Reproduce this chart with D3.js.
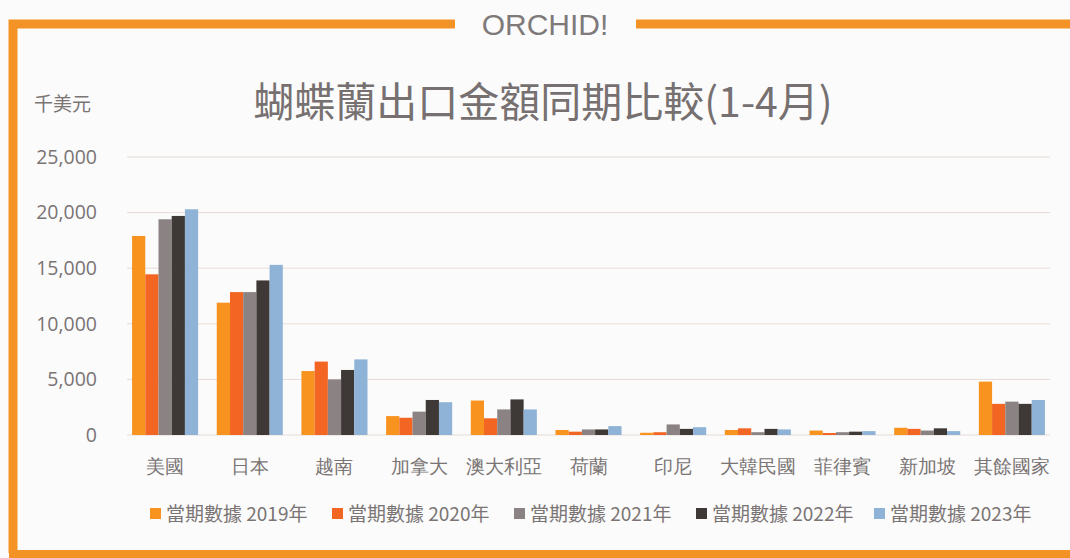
<!DOCTYPE html>
<html>
<head>
  <meta charset="utf-8">
  <script src="https://d3js.org/d3.v7.min.js"></script>
  <style>
    body { margin: 0; background: #fbfbfb; font-family: "Noto Sans CJK TC", "Noto Sans", sans-serif; }
  </style>
</head>
<body>
<div id="chart"></div>
<script>
const width = 1070;
const height = 558;
const margin = { top: 157, bottom: 123, left: 127, right: 20 };

// 國家
const countries = ["美國", "日本", "越南", "加拿大", "澳大利亞", "荷蘭", "印尼", "大韓民國", "菲律賓", "新加坡", "其餘國家"];
const years = ["當期數據 2019年", "當期數據 2020年", "當期數據 2021年", "當期數據 2022年", "當期數據 2023年"];
const colors = ["#f7931e", "#f26522", "#8b8383", "#3e3936", "#8fb3d6"];

// 千美元
const v2019 = [17900, 11900, 5750, 1700, 3100, 450, 200, 450, 400, 650, 4800];
const v2020 = [14450, 12850, 6600, 1550, 1500, 300, 250, 600, 180, 550, 2800];
const v2021 = [19400, 12850, 5000, 2100, 2300, 500, 950, 250, 250, 400, 3000];
const v2022 = [19700, 13900, 5850, 3150, 3200, 500, 550, 550, 300, 600, 2800];
const v2023 = [20300, 15300, 6800, 2950, 2300, 800, 700, 500, 350, 350, 3150];
const series = [v2019, v2020, v2021, v2022, v2023];
const yTicks = [0, 5000, 10000, 15000, 20000, 25000];

const svg = d3.select("#chart").append("svg")
  .attr("width", width)
  .attr("height", height);

// frame
const orange = "#f39325";
svg.append("path")
  .attr("d", `M 13 ${height - 5} L 13 24 L 455 24`)
  .attr("fill", "none")
  .attr("stroke", orange)
  .attr("stroke-width", 9);
svg.append("path")
  .attr("d", `M 9 ${height - 4} L ${width} ${height - 4}`)
  .attr("stroke", orange)
  .attr("stroke-width", 8);
svg.append("line")
  .attr("x1", 636).attr("x2", width)
  .attr("y1", 24).attr("y2", 24)
  .attr("stroke", orange)
  .attr("stroke-width", 9);
svg.append("text")
  .attr("x", 545).attr("y", 35)
  .attr("text-anchor", "middle")
  .attr("font-family", "Liberation Sans, Arial, sans-serif")
  .attr("font-size", 30)
  .attr("fill", "#7f7a7a")
  .text("ORCHID!");

// title
svg.append("text")
  .attr("x", 543).attr("y", 117)
  .attr("text-anchor", "middle")
  .attr("font-size", 41)
  .attr("fill", "#767070")
  .text("蝴蝶蘭出口金額同期比較(1-4月)");

svg.append("text")
  .attr("x", 34).attr("y", 111)
  .attr("font-size", 19)
  .attr("fill", "#7a7474")
  .text("千美元");

const x = d3.scaleBand()
  .domain(countries)
  .range([margin.left, width - margin.right])
  .paddingInner(0.22)
  .paddingOuter(0.06);

const x1 = d3.scaleBand()
  .domain(d3.range(years.length))
  .range([0, x.bandwidth()]);

const y = d3.scaleLinear()
  .domain([0, 25000])
  .range([height - margin.bottom, margin.top]);

// grid
svg.append("g")
  .selectAll("line")
  .data(yTicks)
  .join("line")
    .attr("x1", margin.left)
    .attr("x2", width - margin.right)
    .attr("y1", d => y(d))
    .attr("y2", d => y(d))
    .attr("stroke", "#e6dcd8")
    .attr("stroke-width", 1);

// y axis
const yAxis = svg.append("g")
  .attr("transform", `translate(97,0)`)
  .call(d3.axisLeft(y).tickValues(yTicks).tickFormat(d3.format(",")).tickSize(0));
yAxis.select(".domain").remove();
yAxis.selectAll("text")
  .attr("font-family", "Open Sans, Noto Sans, sans-serif")
  .attr("font-size", 19.5)
  .attr("fill", "#7a7474")
  .attr("x", 0);

// bars
svg.append("g")
  .selectAll("g")
  .data(countries)
  .join("g")
    .attr("transform", d => `translate(${x(d)},0)`)
  .selectAll("rect")
  .data((c, i) => series.map((s, k) => ({ k, v: s[i] })))
  .join("rect")
    .attr("x", d => x1(d.k))
    .attr("y", d => y(d.v))
    .attr("width", x1.bandwidth())
    .attr("height", d => y(0) - y(d.v))
    .attr("fill", d => colors[d.k]);

// x axis
const xAxis = svg.append("g")
  .attr("transform", `translate(0,${height - margin.bottom})`)
  .call(d3.axisBottom(x).tickSize(0));
xAxis.select(".domain").remove();
xAxis.selectAll("text")
  .attr("font-size", 18.5)
  .attr("fill", "#7a7474")
  .attr("dy", 35);

// legend
const legendX = [150, 332, 514, 696, 874];
const legend = svg.append("g")
  .selectAll("g")
  .data(years)
  .join("g")
    .attr("transform", (d, i) => `translate(${legendX[i]},514)`);
legend.append("rect")
  .attr("x", 0).attr("y", -6)
  .attr("width", 11).attr("height", 11)
  .attr("fill", (d, i) => colors[i]);
legend.append("text")
  .attr("x", 16).attr("y", 7)
  .attr("font-size", 19)
  .attr("fill", "#7a7474")
  .text(d => d);
</script>
</body>
</html>
